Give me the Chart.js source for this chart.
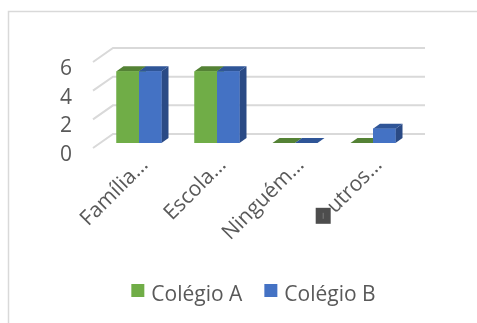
<!DOCTYPE html>
<html>
<head>
<meta charset="utf-8">
<script src="https://cdn.jsdelivr.net/npm/chart.js@4.4.1/dist/chart.umd.min.js"></script>
<style>
  html, body { margin: 0; padding: 0; background: #ffffff; }
  #wrap { width: 477px; height: 323px; }
</style>
</head>
<body>
<div id="wrap"><canvas id="c" width="477" height="323"></canvas></div>
<script>
// Categories, series and axis ticks
const categories = ['Família…', 'Escola…', 'Ninguém…', 'Outros…'];
const seriesNames = ['Colégio A', 'Colégio B'];
const colegioA = [5, 5, 0, 0];
const colegioB = [5, 5, 0, 1];
const yTicks = [0, 2, 4, 6];

// Face colours for the 3D columns: front, top, side
const faceColors = [
  { front: '#70AD47', top: '#548235', side: '#4E7A31' },
  { front: '#4472C4', top: '#2F5597', side: '#2A4A85' }
];

const FONT = '"Open Sans", "DejaVu Sans", sans-serif';
const TEXT = '#595959';
const DEPTH = { dx: 7, dy: -5 };      // column depth
const WALL = { dx: 13, dy: -9 };      // back wall offset from the column front plane
const FLOOR = { dx: -7, dy: 5 };      // front edge of the floor

const threeD = {
  id: 'threeD',
  beforeDraw(chart) {
    const ctx = chart.ctx;
    const area = chart.chartArea;
    const y = chart.scales.y;
    ctx.save();
    // outer frame
    ctx.strokeStyle = '#D9D9D9';
    ctx.lineWidth = 1.5;
    ctx.strokeRect(8.5, 11.5, 600, 400);

    // back wall gridlines and left wall ticks
    ctx.strokeStyle = '#D9D9D9';
    ctx.lineWidth = 2;
    yTicks.forEach(v => {
      const py = y.getPixelForValue(v);
      ctx.beginPath();
      ctx.moveTo(area.left + FLOOR.dx, py + FLOOR.dy);
      ctx.lineTo(area.left + WALL.dx, py + WALL.dy);
      ctx.lineTo(area.right + WALL.dx, py + WALL.dy);
      ctx.stroke();
    });

    // value labels
    ctx.fillStyle = TEXT;
    ctx.font = '21px ' + FONT;
    ctx.textAlign = 'right';
    ctx.textBaseline = 'middle';
    yTicks.forEach(v => {
      ctx.fillText(String(v), 72, y.getPixelForValue(v) + 12);
    });
    ctx.restore();
  },
  afterDatasetsDraw(chart) {
    const ctx = chart.ctx;
    const base = chart.scales.y.getPixelForValue(0);
    ctx.save();
    categories.forEach((_, i) => {
      chart.data.datasets.forEach((ds, d) => {
        const el = chart.getDatasetMeta(d).data[i];
        const c = faceColors[d];
        const x1 = el.x - el.width / 2;
        const x2 = el.x + el.width / 2;
        const top = el.y;
        // side face
        ctx.fillStyle = c.side;
        ctx.beginPath();
        ctx.moveTo(x2, top);
        ctx.lineTo(x2 + DEPTH.dx, top + DEPTH.dy);
        ctx.lineTo(x2 + DEPTH.dx, base + DEPTH.dy);
        ctx.lineTo(x2, base);
        ctx.closePath();
        ctx.fill();
        // top face
        ctx.fillStyle = c.top;
        ctx.beginPath();
        ctx.moveTo(x1, top);
        ctx.lineTo(x2, top);
        ctx.lineTo(x2 + DEPTH.dx, top + DEPTH.dy);
        ctx.lineTo(x1 + DEPTH.dx, top + DEPTH.dy);
        ctx.closePath();
        ctx.fill();
        // front face
        if (base - top > 0) {
          ctx.fillStyle = c.front;
          ctx.fillRect(x1, top, x2 - x1, base - top);
        }
      });
    });

    // category labels, rotated
    const x = chart.scales.x;
    ctx.fillStyle = TEXT;
    ctx.font = '21px ' + FONT;
    ctx.textAlign = 'right';
    ctx.textBaseline = 'alphabetic';
    categories.forEach((label, i) => {
      const ax = x.getPixelForValue(i) + 10;
      const ay = base + 23;
      ctx.save();
      ctx.translate(ax, ay);
      ctx.rotate(-Math.PI / 4);
      if (i === categories.length - 1) {
        // the first letter of this label shows as a filled placeholder box
        const rest = label.slice(1);
        ctx.fillText(rest, 0, 0);
        const wRest = ctx.measureText(rest).width;
        const wFirst = ctx.measureText(label[0]).width;
        ctx.restore();
        const along = wRest + wFirst / 2;
        const cx = ax - along * Math.SQRT1_2 - 6;
        const cy = ay + along * Math.SQRT1_2 - 4;
        ctx.fillStyle = '#4D4D4D';
        ctx.fillRect(cx - 7.5, cy - 8, 15, 16);
        ctx.fillStyle = '#7A7A7A';
        ctx.fillRect(cx - 0.5, cy - 3, 1, 6);
        ctx.fillStyle = TEXT;
      } else {
        ctx.fillText(label, 0, 0);
        ctx.restore();
      }
    });

    // legend
    ctx.font = '21px ' + FONT;
    ctx.textAlign = 'left';
    ctx.textBaseline = 'middle';
    const items = chart.data.datasets.map((ds, d) => ({ text: ds.label, color: faceColors[d].front }));
    const box = 13, gapText = 7, gapItem = 22;
    let total = 0;
    items.forEach((it, k) => {
      total += box + gapText + ctx.measureText(it.text).width + (k < items.length - 1 ? gapItem : 0);
    });
    let lx = 253.5 - total / 2;
    const ly = 295;
    items.forEach(it => {
      ctx.fillStyle = it.color;
      ctx.fillRect(lx, ly - 11, box, box);
      lx += box + gapText;
      ctx.fillStyle = TEXT;
      ctx.fillText(it.text, lx, ly);
      lx += ctx.measureText(it.text).width + gapItem;
    });
    ctx.restore();
  }
};

new Chart(document.getElementById('c'), {
  type: 'bar',
  data: {
    labels: categories,
    datasets: [
      { label: seriesNames[0], data: colegioA, backgroundColor: faceColors[0].front, borderWidth: 0 },
      { label: seriesNames[1], data: colegioB, backgroundColor: faceColors[1].front, borderWidth: 0 }
    ]
  },
  options: {
    responsive: false,
    animation: false,
    events: [],
    layout: { padding: { left: 100, right: 65, top: 57, bottom: 180 } },
    datasets: { bar: { categoryPercentage: 0.577, barPercentage: 1.0 } },
    scales: {
      x: { display: false, grid: { display: false } },
      y: { display: false, min: 0, max: 6, grid: { display: false } }
    },
    plugins: {
      legend: { display: false },
      tooltip: { enabled: false },
      title: { display: false }
    }
  },
  plugins: [threeD]
});
</script>
</body>
</html>
